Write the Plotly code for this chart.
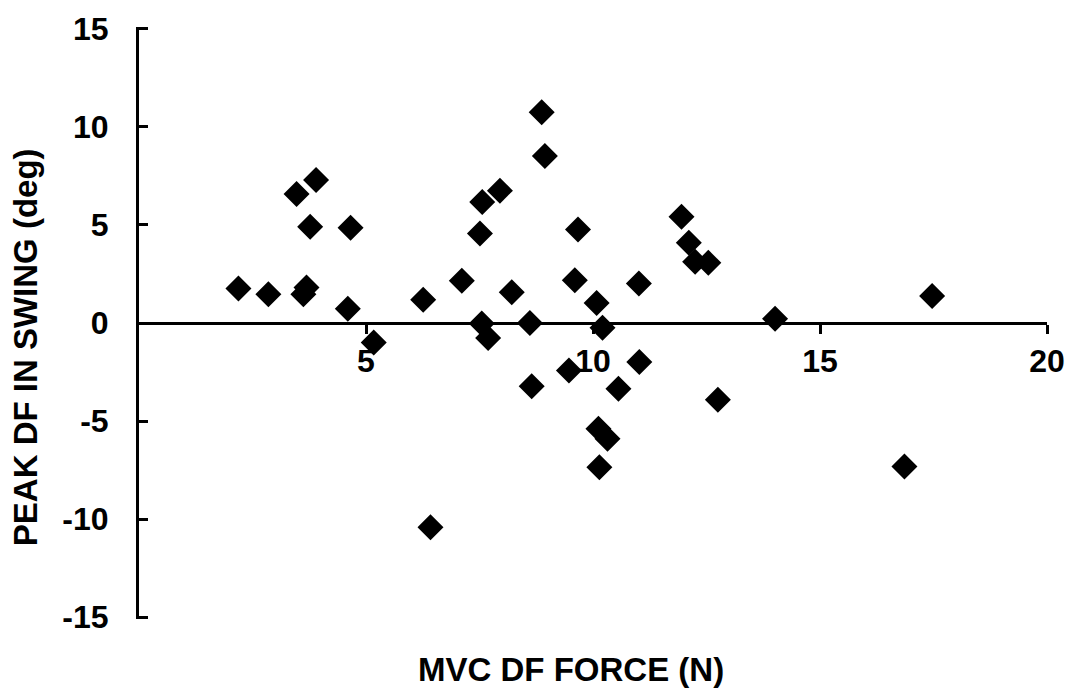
import plotly.graph_objects as go

# Data
mvc_df_force = [2.19, 2.85, 3.47, 3.90, 3.77, 3.69, 3.62, 4.66, 4.60, 5.17,
                6.26, 6.42, 7.11, 7.56, 7.51, 7.95, 7.55, 7.69, 8.21, 8.61,
                8.65, 8.87, 8.94, 9.47, 9.67, 9.60, 10.08, 10.21, 10.12, 10.32,
                10.14, 10.56, 11.02, 11.01, 11.95, 12.11, 12.25, 12.54, 12.75, 14.01,
                16.86, 17.47]
peak_df_swing = [1.76, 1.47, 6.58, 7.29, 4.91, 1.81, 1.47, 4.86, 0.73, -1.00,
                 1.19, -10.42, 2.15, 6.17, 4.57, 6.75, -0.03, -0.76, 1.57, 0.00,
                 -3.23, 10.75, 8.52, -2.42, 4.77, 2.18, 1.02, -0.24, -5.40, -5.91,
                 -7.36, -3.35, -1.99, 2.01, 5.42, 4.09, 3.12, 3.07, -3.92, 0.22,
                 -7.32, 1.38]

x_tickvals = [5, 10, 15, 20]
x_ticktext = ["5", "10", "15", "20"]
y_tickvals = [15, 10, 5, 0, -5, -10, -15]
y_ticktext = ["15", "10", "5", "0", "-5", "-10", "-15"]

x_title = "MVC DF FORCE (N)"
y_title = "PEAK DF IN SWING (deg)"

FONT = "Arial, 'Liberation Sans', sans-serif"

fig = go.Figure()
fig.add_trace(go.Scatter(
    x=mvc_df_force, y=peak_df_swing, mode="markers",
    marker=dict(symbol="diamond", size=20, color="black", line=dict(width=0)),
    showlegend=False,
))

fig.update_layout(
    width=1078, height=698,
    margin=dict(l=139, r=31, t=27, b=79),
    paper_bgcolor="white", plot_bgcolor="white",
    font=dict(family=FONT, color="black"),
    xaxis=dict(
        range=[0, 20], anchor="free", position=0.5,
        showgrid=False, zeroline=False,
        showline=True, linecolor="black", linewidth=3,
        ticks="outside", ticklen=9, tickwidth=3, tickcolor="black",
        tickvals=x_tickvals, ticktext=x_ticktext,
        tickfont=dict(family=FONT, size=32, color="black", weight="bold"),
        ticklabelstandoff=0,
    ),
    yaxis=dict(
        # slightly padded so the inside end ticks at +/-15 are kept
        range=[-15.1, 15.1],
        showgrid=False, zeroline=False,
        showline=True, linecolor="black", linewidth=3,
        ticks="inside", ticklen=9, tickwidth=3, tickcolor="black",
        tickvals=y_tickvals, ticktext=y_ticktext,
        tickfont=dict(family=FONT, size=32, color="black", weight="bold"),
        ticklabelstandoff=21,
    ),
    annotations=[
        dict(text=x_title, xref="paper", yref="paper", x=0.4763, y=-0.0861,
             xanchor="center", yanchor="middle", showarrow=False,
             font=dict(family=FONT, size=33, color="black", weight="bold")),
        dict(text=y_title, xref="paper", yref="paper", x=-0.1256, y=0.459,
             xanchor="center", yanchor="middle", textangle=-90, showarrow=False,
             font=dict(family=FONT, size=33, color="black", weight="bold")),
    ],
)

fig.write_html("out.html")
